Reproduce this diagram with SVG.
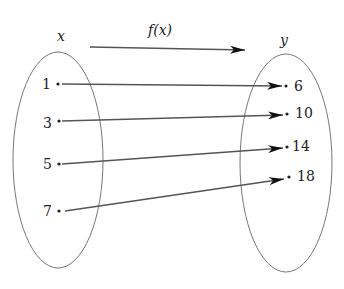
<svg xmlns="http://www.w3.org/2000/svg" width="344" height="289" viewBox="0 0 344 289">
<style>
.set{fill:none;stroke:#777;stroke-width:1}
.lbl{font-family:'DejaVu Serif',serif;font-size:14px;fill:#222}
.it{font-style:italic}
.dot{fill:#222}
.arr{fill:none;stroke:#555;stroke-width:1.4;marker-end:url(#ah)}
</style>
<defs>
<marker id="ah" markerUnits="userSpaceOnUse" markerWidth="15" markerHeight="8" refX="15" refY="4" orient="auto" viewBox="0 0 15 8">
<path d="M0,0 L15,4 L0,8 L4,4 Z" fill="#111"/>
</marker>
</defs>
<rect width="344" height="289" fill="#fff"/>
<g id="setX">
<ellipse class="set" cx="58" cy="160" rx="45" ry="108"/>
<text class="lbl it" x="61" y="41" text-anchor="middle">x</text>
</g>
<g id="setY">
<ellipse class="set" cx="286" cy="163" rx="46" ry="109"/>
<text class="lbl it" x="284" y="45" text-anchor="middle">y</text>
</g>
<g id="x1"><circle class="dot" cx="58" cy="84" r="1.6"/><text class="lbl" x="51" y="89" text-anchor="end">1</text></g>
<g id="x3"><circle class="dot" cx="59" cy="121" r="1.6"/><text class="lbl" x="52" y="128" text-anchor="end">3</text></g>
<g id="x5"><circle class="dot" cx="59" cy="164" r="1.6"/><text class="lbl" x="52" y="169" text-anchor="end">5</text></g>
<g id="x7"><circle class="dot" cx="59" cy="211" r="1.6"/><text class="lbl" x="52" y="216" text-anchor="end">7</text></g>
<g id="y6"><circle class="dot" cx="286" cy="86" r="1.6"/><text class="lbl" x="294" y="91">6</text></g>
<g id="y10"><circle class="dot" cx="287" cy="114" r="1.6"/><text class="lbl" x="295" y="118">10</text></g>
<g id="y14"><circle class="dot" cx="287" cy="147" r="1.6"/><text class="lbl" x="292" y="151">14</text></g>
<g id="y18"><circle class="dot" cx="289" cy="177" r="1.6"/><text class="lbl" x="297" y="181">18</text></g>
<g id="fx"><text class="lbl it" x="160" y="35" text-anchor="middle">f(x)</text></g>
<g id="connectors">
<line class="arr" x1="90" y1="47" x2="245" y2="50"/>
<line class="arr" x1="62" y1="84" x2="282" y2="86"/>
<line class="arr" x1="62" y1="121" x2="283" y2="115"/>
<line class="arr" x1="62" y1="164" x2="283" y2="148"/>
<line class="arr" x1="65" y1="211" x2="284" y2="179"/>
</g>
</svg>
